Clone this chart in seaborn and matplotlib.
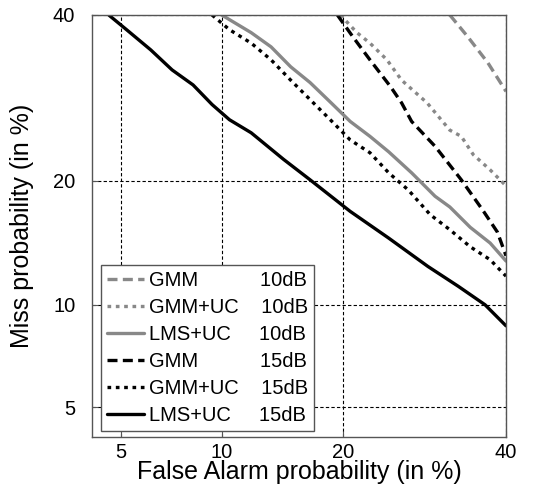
import numpy as np
import pandas as pd
import seaborn as sns
import matplotlib
matplotlib.use("Agg")
import matplotlib.pyplot as plt
from statistics import NormalDist

# DET curves, values in % (false alarm, miss)
gmm10_fa = [32.4, 34.8, 37.5, 40.0]
gmm10_miss = [40.0, 37.0, 33.6, 30.0]

gmmuc10_fa = [19.7, 21.4, 22.8, 24.7, 26.4, 29.5, 32.4, 33.9, 35.5, 37.8, 40.0]
gmmuc10_miss = [40.0, 37.6, 36.2, 34.0, 31.4, 28.6, 25.4, 24.7, 22.7, 21.1, 19.5]

lms10_fa = [10.0, 12.0, 13.5, 15.1, 16.8, 18.7, 20.7, 22.8, 24.9, 27.6, 30.5, 32.4, 35.1, 37.8, 40.0]
lms10_miss = [40.0, 37.6, 35.7, 33.1, 31.1, 28.7, 26.4, 24.7, 23.0, 20.8, 18.5, 17.5, 15.7, 14.4, 13.0]

gmm15_fa = [19.4, 21.0, 22.8, 25.1, 26.4, 27.6, 30.5, 33.9, 36.8, 38.8, 40.0]
gmm15_miss = [40.0, 37.0, 34.0, 30.6, 28.6, 26.4, 23.6, 20.1, 17.2, 15.3, 13.4]

gmmuc15_fa = [9.4, 10.5, 12.0, 13.5, 15.1, 16.8, 18.7, 20.7, 22.8, 24.9, 27.2, 29.9, 32.4, 35.1, 37.8, 40.0]
gmmuc15_miss = [40.0, 38.0, 36.2, 34.0, 31.4, 29.0, 26.6, 24.3, 22.9, 20.8, 19.1, 16.8, 15.5, 14.1, 13.1, 11.9]

lms15_fa = [4.55, 5.2, 6.2, 7.2, 8.3, 9.4, 10.5, 12.0, 14.5, 16.8, 20.7, 24.9, 29.6, 33.5, 37.1, 40.0]
lms15_miss = [40.0, 38.0, 35.3, 32.7, 30.8, 28.4, 26.6, 25.1, 22.2, 20.1, 17.1, 14.8, 12.6, 11.2, 10.0, 8.75]

labels = ["GMM           10dB", "GMM+UC    10dB", "LMS+UC     10dB",
          "GMM           15dB", "GMM+UC    15dB", "LMS+UC     15dB"]
ticks = [5, 10, 20, 40]
tick_labels = ["5", "10", "20", "40"]

curves = [(gmm10_fa, gmm10_miss), (gmmuc10_fa, gmmuc10_miss), (lms10_fa, lms10_miss),
          (gmm15_fa, gmm15_miss), (gmmuc15_fa, gmmuc15_miss), (lms15_fa, lms15_miss)]
gray = "#888888"
colors = [gray, gray, gray, "black", "black", "black"]
dash = (0, (3, 1.6))
dot = (0, (1.1, 1.4))
styles = [dash, dot, "-", dash, dot, "-"]

# normal deviate (probit) scale
_nd = NormalDist()
_fwd = np.vectorize(lambda p: _nd.inv_cdf(min(max(p / 100.0, 1e-9), 1 - 1e-9)), otypes=[float])
_inv = np.vectorize(lambda z: 100.0 * _nd.cdf(z), otypes=[float])

sns.set_style("ticks")
plt.rcParams["font.family"] = ["Liberation Sans", "DejaVu Sans"]
plt.rcParams["text.color"] = "black"
plt.rcParams["axes.labelcolor"] = "black"
plt.rcParams["xtick.labelcolor"] = "black"
plt.rcParams["ytick.labelcolor"] = "black"

fig, ax = plt.subplots(figsize=(5.34, 4.9), dpi=100)
fig.subplots_adjust(left=0.1723, right=0.9476, bottom=0.1082, top=0.9694)

for (fa, miss), lab, col, ls in zip(curves, labels, colors, styles):
    df = pd.DataFrame({"fa": fa, "miss": miss})
    sns.lineplot(data=df, x="fa", y="miss", ax=ax, color=col, linestyle=ls,
                 linewidth=2.4, label=lab, sort=False, estimator=None)

ax.set_xscale("function", functions=(_fwd, _inv))
ax.set_yscale("function", functions=(_fwd, _inv))
ax.set_xlim(4, 40)
ax.set_ylim(4, 40)
ax.set_xticks(ticks)
ax.set_xticklabels(tick_labels)
ax.set_yticks(ticks)
ax.set_yticklabels(tick_labels)
ax.minorticks_off()
ax.tick_params(labelsize=14.5, direction="in", length=4, color="#555555")
ax.tick_params(axis="x", pad=4)
ax.tick_params(axis="y", pad=12)
ax.grid(True, color="black", linestyle=(0, (3, 2)), linewidth=0.8)
for sp in ax.spines.values():
    sp.set_color("#555555")
    sp.set_linewidth(1.0)

ax.set_xlabel("False Alarm probability (in %)", fontsize=18, labelpad=-1)
ax.set_ylabel("Miss probability (in %)", fontsize=18, labelpad=14)

leg = ax.legend(loc="upper left", bbox_to_anchor=(0.0217, 0.4076), borderaxespad=0,
                fontsize=14.5, handlelength=1.85, handletextpad=0.25, labelspacing=0.4,
                borderpad=0.3, fancybox=False, frameon=True, framealpha=1)
leg.get_frame().set_edgecolor("#555555")
leg.get_frame().set_linewidth(1.0)

plt.savefig("out.png", dpi=100)
plt.close()
